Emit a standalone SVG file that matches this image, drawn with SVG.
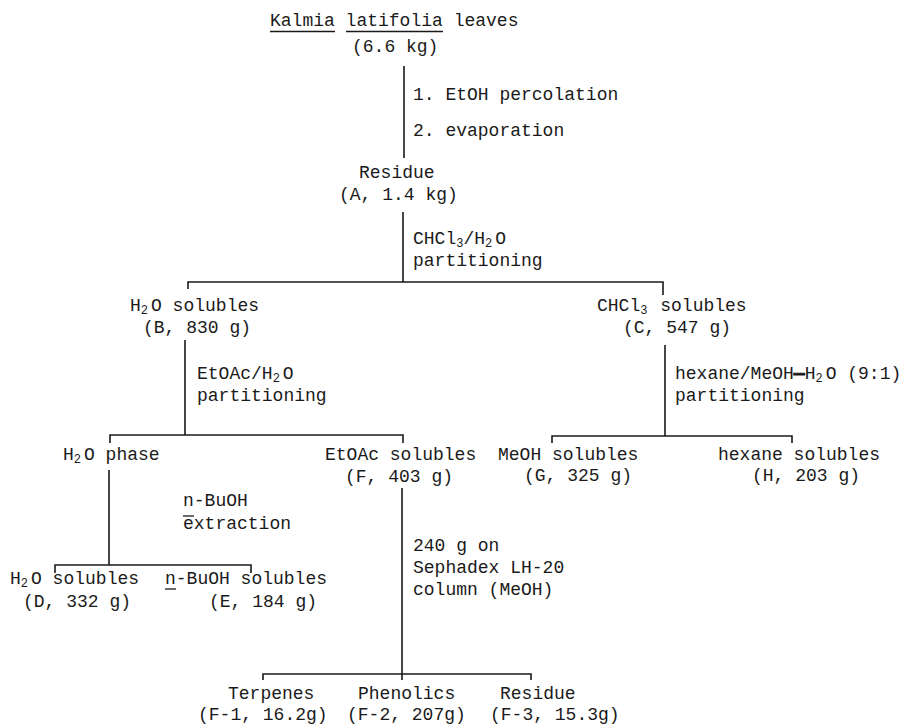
<svg xmlns="http://www.w3.org/2000/svg" width="912" height="725" viewBox="0 0 912 725">
<style>
text{font-family:"Liberation Mono","DejaVu Sans Mono",monospace;font-size:18px;fill:#1a1a1a}
.sub{font-size:12px}
.ln{stroke:#1a1a1a;stroke-width:1.6;fill:none}
.ul{stroke:#1a1a1a;stroke-width:1.3}
</style>
<rect width="912" height="725" fill="#fff"/>
<g id="connectors">
<path class="ln" d="M404 66V158"/>
<path class="ln" d="M403 212V282M188 289V282H663V295"/>
<path class="ln" d="M185 340V435M110 443V435H403V443"/>
<path class="ln" d="M665 345V436M552 443V436H792V443"/>
<path class="ln" d="M109 470V565M55 573V565H251V573"/>
<path class="ln" d="M402 488V680M263 680V674H531V680"/>
</g>
<g id="edge-labels">
<text x="413" y="100">1. EtOH percolation</text>
<text x="413" y="136">2. evaporation</text>
<text x="413" y="244">CHCl<tspan class="sub" dy="3">3</tspan><tspan dy="-3">/H</tspan><tspan class="sub" dy="3">2</tspan><tspan dx="3" dy="-3">O</tspan></text>
<text x="413" y="266">partitioning</text>
<text x="197" y="379">EtOAc/H<tspan class="sub" dy="3">2</tspan><tspan dx="3" dy="-3">O</tspan></text>
<text x="197" y="401">partitioning</text>
<text x="675" y="379">hexane/MeOH<tspan font-weight="bold" stroke="#1a1a1a" stroke-width="1">—</tspan>H<tspan class="sub" dy="3">2</tspan><tspan dx="3" dy="-3">O (9:1)</tspan></text>
<text x="675" y="401">partitioning</text>
<text x="183" y="506">n-BuOH</text>
<line class="ul" x1="183" y1="516" x2="194" y2="516"/>
<text x="183" y="529">extraction</text>
<text x="413" y="551">240 g on</text>
<text x="413" y="573">Sephadex LH-20</text>
<text x="413" y="595">column (MeOH)</text>
</g>
<g id="node-leaves">
<text x="270" y="26">Kalmia latifolia leaves</text>
<line class="ul" x1="270" y1="31.5" x2="335" y2="31.5"/>
<line class="ul" x1="346" y1="31.5" x2="443" y2="31.5"/>
<text x="352" y="52">(6.6 kg)</text>
</g>
<g id="node-A">
<text x="359" y="178">Residue</text>
<text x="339" y="200">(A, 1.4 kg)</text>
</g>
<g id="node-B">
<text x="130" y="311">H<tspan class="sub" dy="3">2</tspan><tspan dx="3" dy="-3">O solubles</tspan></text>
<text x="143" y="333">(B, 830 g)</text>
</g>
<g id="node-C">
<text x="597" y="311">CHCl<tspan class="sub" dy="3">3</tspan><tspan dx="2" dy="-3"> solubles</tspan></text>
<text x="623" y="333">(C, 547 g)</text>
</g>
<g id="node-H2O-phase">
<text x="63" y="460">H<tspan class="sub" dy="3">2</tspan><tspan dx="3" dy="-3">O phase</tspan></text>
</g>
<g id="node-F">
<text x="325" y="460">EtOAc solubles</text>
<text x="345" y="482">(F, 403 g)</text>
</g>
<g id="node-G">
<text x="498" y="460">MeOH solubles</text>
<text x="524" y="481">(G, 325 g)</text>
</g>
<g id="node-H">
<text x="718" y="460">hexane solubles</text>
<text x="752" y="481">(H, 203 g)</text>
</g>
<g id="node-D">
<text x="10" y="584">H<tspan class="sub" dy="3">2</tspan><tspan dx="3" dy="-3">O solubles</tspan></text>
<text x="23" y="607">(D, 332 g)</text>
</g>
<g id="node-E">
<text x="165" y="584">n-BuOH solubles</text>
<line class="ul" x1="165" y1="589" x2="176" y2="589"/>
<text x="209" y="607">(E, 184 g)</text>
</g>
<g id="node-F1">
<text x="228" y="699">Terpenes</text>
<text x="198" y="720">(F-1, 16.2g)</text>
</g>
<g id="node-F2">
<text x="358" y="699">Phenolics</text>
<text x="347" y="720">(F-2, 207g)</text>
</g>
<g id="node-F3">
<text x="500" y="699">Residue</text>
<text x="490" y="720">(F-3, 15.3g)</text>
</g>
</svg>
